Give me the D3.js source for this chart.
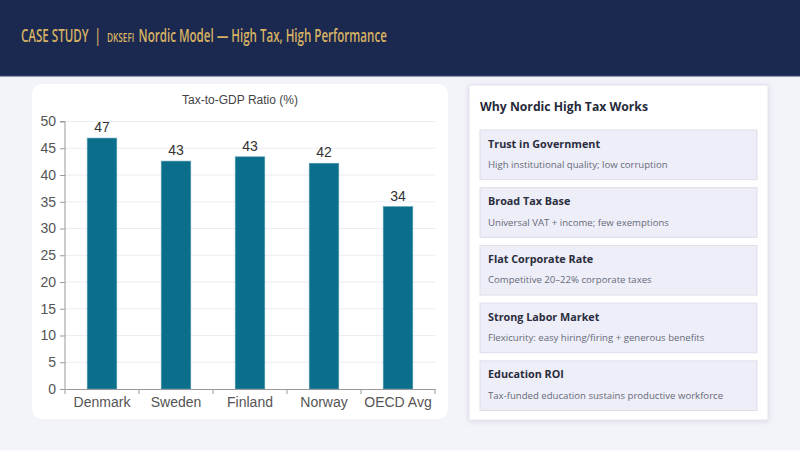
<!DOCTYPE html>
<html>
<head>
<meta charset="utf-8">
<script src="https://cdn.jsdelivr.net/npm/d3@7"></script>
<style>
  html, body { margin: 0; padding: 0; background: #f3f3fa; }
  svg { display: block; }
  .keep-space { white-space: pre; }
</style>
</head>
<body>
<div id="slide"></div>
<script>
// chart data
const countries = ["Denmark", "Sweden", "Finland", "Norway", "OECD Avg"];
const taxRatio = [46.9, 42.6, 43.4, 42.2, 34.1];
const yTicks = [0, 5, 10, 15, 20, 25, 30, 35, 40, 45, 50];

// side panel text
const factorTitles = ["Trust in Government", "Broad Tax Base", "Flat Corporate Rate", "Strong Labor Market", "Education ROI"];
const factorNotes = [
    "High institutional quality; low corruption",
    "Universal VAT + income; few exemptions",
    "Competitive 20\u201322% corporate taxes",
    "Flexicurity: easy hiring/firing + generous benefits",
    "Tax-funded education sustains productive workforce"
];

const W = 800, H = 450;
const uiFont = "'Open Sans', 'Noto Sans', sans-serif";
const chartFont = "'Liberation Sans', Arial, sans-serif";

const svg = d3.select("#slide").append("svg")
    .attr("width", W)
    .attr("height", H);

const defs = svg.append("defs");
const shadow = defs.append("filter").attr("id", "shadow")
    .attr("x", "-10%").attr("y", "-10%").attr("width", "120%").attr("height", "120%");
shadow.append("feDropShadow")
    .attr("dx", 0).attr("dy", 1).attr("stdDeviation", 2.5)
    .attr("flood-color", "#8080a0").attr("flood-opacity", 0.25);

// background + header band
svg.append("rect").attr("width", W).attr("height", H).attr("fill", "#f3f3fa");
svg.append("rect").attr("width", W).attr("height", 76).attr("fill", "#1b2850");
svg.append("rect").attr("y", 75).attr("width", W).attr("height", 1.5).attr("fill", "#2c3a63");

// header: one line, scaled horizontally to the narrow slide font width
const headerG = svg.append("g");
const header = headerG.append("text")
    .attr("class", "keep-space")
    .attr("x", 0).attr("y", 0)
    .attr("font-family", uiFont)
    .attr("font-size", 17.5)
    .attr("font-weight", 600)
    .attr("fill", "#d6b262");
header.append("tspan").text("CASE STUDY  |  ");
header.append("tspan").attr("font-size", 12.5).text("DKSEFI  ");
header.append("tspan").text("Nordic Model \u2014 High Tax, High Performance");
const headerW = header.node().getComputedTextLength() || 366;
headerG.attr("transform", `translate(21,42) scale(${366 / headerW},1)`);

// chart card
svg.append("rect")
    .attr("x", 32).attr("y", 84).attr("width", 416).attr("height", 335)
    .attr("rx", 10).attr("fill", "#ffffff");

const x = d3.scaleBand()
    .domain(countries)
    .range([65, 435])
    .paddingInner(0)
    .paddingOuter(0);

const y = d3.scaleLinear()
    .domain([0, 50])
    .range([389, 121.5]);

const chart = svg.append("g");

chart.append("text")
    .attr("x", 240).attr("y", 104)
    .attr("text-anchor", "middle")
    .attr("font-family", chartFont)
    .attr("font-size", 12)
    .attr("fill", "#444")
    .text("Tax-to-GDP Ratio (%)");

// gridlines
chart.append("g")
    .selectAll("line")
    .data(yTicks.filter(d => d > 0))
    .join("line")
    .attr("x1", 65).attr("x2", 435)
    .attr("y1", d => y(d)).attr("y2", d => y(d))
    .attr("stroke", "#ececf3")
    .attr("stroke-width", 1);

// bars
const barW = x.bandwidth() * 0.4;
chart.append("g")
    .selectAll("rect")
    .data(countries)
    .join("rect")
    .attr("x", d => x(d) + (x.bandwidth() - barW) / 2)
    .attr("y", (d, i) => y(taxRatio[i]))
    .attr("width", barW)
    .attr("height", (d, i) => y(0) - y(taxRatio[i]))
    .attr("fill", "#0b6e8b")
    .attr("stroke", "#5a9fb4")
    .attr("stroke-width", 0.6);

// value labels
chart.append("g")
    .selectAll("text")
    .data(countries)
    .join("text")
    .attr("x", d => x(d) + x.bandwidth() / 2)
    .attr("y", (d, i) => y(taxRatio[i]) - 6)
    .attr("text-anchor", "middle")
    .attr("font-family", chartFont)
    .attr("font-size", 14)
    .attr("fill", "#333")
    .text((d, i) => Math.round(taxRatio[i]));

// axes
const yAxis = chart.append("g")
    .attr("transform", "translate(65,0)")
    .call(d3.axisLeft(y).tickValues(yTicks).tickSize(5).tickPadding(4));

const xAxis = chart.append("g")
    .attr("transform", `translate(0,${y(0)})`)
    .call(d3.axisBottom(x).tickSize(0).tickPadding(8));

// band-edge ticks on x axis
xAxis.selectAll(".edge")
    .data(d3.range(countries.length + 1))
    .join("line")
    .attr("class", "edge")
    .attr("x1", i => 65 + i * x.step())
    .attr("x2", i => 65 + i * x.step())
    .attr("y1", 0).attr("y2", 5)
    .attr("stroke", "#999");

[yAxis, xAxis].forEach(ax => {
    ax.select(".domain").attr("stroke", "#999");
    ax.selectAll(".tick line").attr("stroke", "#999");
    ax.selectAll(".tick text")
        .attr("font-family", chartFont)
        .attr("font-size", 14)
        .attr("fill", "#555");
});
yAxis.select(".domain").attr("d", `M-5,${y(50)}H0V${y(0)}`);

// side panel
const panel = svg.append("g");
panel.append("rect")
    .attr("x", 469).attr("y", 85).attr("width", 299).attr("height", 335)
    .attr("fill", "#ffffff")
    .attr("stroke", "#e4e4ee")
    .attr("stroke-width", 1)
    .attr("filter", "url(#shadow)");

panel.append("text")
    .attr("x", 480).attr("y", 111)
    .attr("font-family", uiFont)
    .attr("font-size", 12.2)
    .attr("font-weight", 700)
    .attr("fill", "#262a3a")
    .text("Why Nordic High Tax Works");

const rowY = d3.scaleBand()
    .domain(d3.range(factorTitles.length))
    .range([130, 410.5])
    .paddingInner(0.14)
    .paddingOuter(0);

const rows = panel.selectAll(".factor")
    .data(factorTitles)
    .join("g")
    .attr("class", "factor")
    .attr("transform", (d, i) => `translate(480,${rowY(i)})`);

rows.append("rect")
    .attr("width", 277)
    .attr("height", rowY.bandwidth())
    .attr("fill", "#eeeef8")
    .attr("stroke", "#dedeea")
    .attr("stroke-width", 1);

rows.append("text")
    .attr("x", 8).attr("y", 17.5)
    .attr("font-family", uiFont)
    .attr("font-size", 10.8)
    .attr("font-weight", 700)
    .attr("fill", "#2a2d3d")
    .text(d => d);

rows.append("text")
    .attr("x", 8).attr("y", 38)
    .attr("font-family", uiFont)
    .attr("font-size", 9.6)
    .attr("fill", "#666a78")
    .text((d, i) => factorNotes[i]);
</script>
</body>
</html>
